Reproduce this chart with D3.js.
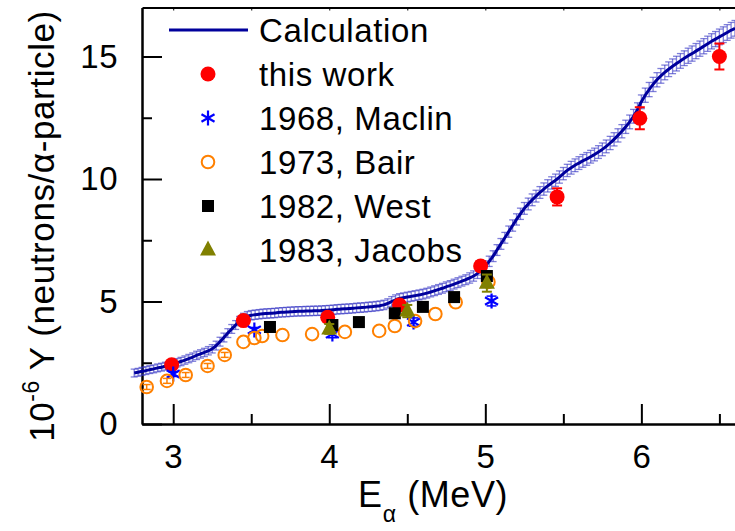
<!DOCTYPE html>
<html>
<head>
<meta charset="utf-8">
<script src="https://cdn.jsdelivr.net/npm/d3@7"></script>
<style>
  body { margin: 0; background: #fff; }
  svg { display: block; }
  text { font-family: "Liberation Sans", Arial, Helvetica, sans-serif; fill: #000; }
</style>
</head>
<body>
<svg id="chart" width="735" height="531"></svg>
<script>
// Calculated thick-target neutron yield (with its uncertainty band)
const calcEnergy = [
  2.750,2.775,2.800,2.825,2.850,2.875,2.900,2.925,2.950,2.975,
  3.000,3.025,3.050,3.075,3.100,3.125,3.150,3.175,3.200,3.225,
  3.250,3.275,3.300,3.325,3.350,3.375,3.400,3.425,3.450,3.475,
  3.500,3.525,3.550,3.575,3.600,3.625,3.650,3.675,3.700,3.725,
  3.750,3.775,3.800,3.825,3.850,3.875,3.900,3.925,3.950,3.975,
  4.000,4.025,4.050,4.075,4.100,4.125,4.150,4.175,4.200,4.225,
  4.250,4.275,4.300,4.325,4.350,4.375,4.400,4.425,4.450,4.475,
  4.500,4.525,4.550,4.575,4.600,4.625,4.650,4.675,4.700,4.725,
  4.750,4.775,4.800,4.825,4.850,4.875,4.900,4.925,4.950,4.975,
  5.000,5.025,5.050,5.075,5.100,5.125,5.150,5.175,5.200,5.225,
  5.250,5.275,5.300,5.325,5.350,5.375,5.400,5.425,5.450,5.475,
  5.500,5.525,5.550,5.575,5.600,5.625,5.650,5.675,5.700,5.725,
  5.750,5.775,5.800,5.825,5.850,5.875,5.900,5.925,5.950,5.975,
  6.000,6.025,6.050,6.075,6.100,6.125,6.150,6.175,6.200,6.225,
  6.250,6.275,6.300,6.325,6.350,6.375,6.400,6.425,6.450,6.475,
  6.500,6.525,6.550,6.575,6.600
];
const calcYield = [
  2.08,2.11,2.15,2.18,2.22,2.25,2.29,2.32,2.36,2.40,
  2.45,2.50,2.55,2.61,2.67,2.73,2.80,2.86,2.92,2.99,
  3.07,3.20,3.36,3.53,3.71,3.88,4.04,4.20,4.33,4.40,
  4.44,4.46,4.48,4.50,4.51,4.52,4.53,4.55,4.56,4.57,
  4.58,4.59,4.60,4.60,4.61,4.61,4.62,4.62,4.63,4.64,
  4.65,4.66,4.68,4.69,4.70,4.71,4.72,4.74,4.75,4.76,
  4.78,4.79,4.81,4.83,4.86,4.92,5.00,5.07,5.12,5.15,
  5.18,5.21,5.24,5.27,5.30,5.34,5.39,5.44,5.49,5.54,
  5.60,5.65,5.71,5.77,5.83,5.89,5.96,6.04,6.15,6.29,
  6.45,6.64,6.85,7.10,7.35,7.60,7.85,8.10,8.35,8.58,
  8.80,8.98,9.15,9.30,9.45,9.59,9.72,9.84,9.95,10.08,
  10.22,10.35,10.46,10.56,10.65,10.74,10.82,10.91,11.00,11.10,
  11.21,11.33,11.47,11.62,11.78,11.95,12.13,12.33,12.56,12.83,
  13.15,13.42,13.65,13.86,14.05,14.21,14.35,14.48,14.60,14.71,
  14.82,14.93,15.03,15.12,15.22,15.32,15.42,15.52,15.62,15.71,
  15.80,15.89,15.98,16.07,16.15
];
const calcError = [
  0.16,0.16,0.16,0.16,0.16,0.16,0.16,0.16,0.16,0.16,
  0.17,0.17,0.17,0.17,0.17,0.17,0.17,0.17,0.17,0.17,
  0.17,0.18,0.18,0.18,0.18,0.18,0.18,0.19,0.19,0.19,
  0.19,0.19,0.19,0.19,0.19,0.19,0.19,0.19,0.19,0.19,
  0.19,0.19,0.19,0.19,0.19,0.19,0.19,0.19,0.19,0.19,
  0.19,0.19,0.19,0.19,0.19,0.19,0.19,0.19,0.19,0.19,
  0.19,0.19,0.19,0.19,0.19,0.19,0.20,0.20,0.20,0.20,
  0.20,0.20,0.20,0.20,0.20,0.20,0.20,0.20,0.20,0.20,
  0.20,0.20,0.20,0.20,0.20,0.20,0.21,0.21,0.21,0.21,
  0.21,0.21,0.22,0.22,0.22,0.22,0.23,0.23,0.23,0.23,
  0.24,0.24,0.24,0.24,0.24,0.25,0.25,0.25,0.25,0.25,
  0.25,0.25,0.26,0.26,0.26,0.26,0.26,0.26,0.26,0.26,
  0.26,0.26,0.27,0.27,0.27,0.27,0.27,0.28,0.28,0.28,
  0.28,0.29,0.29,0.29,0.29,0.30,0.30,0.30,0.30,0.30,
  0.30,0.30,0.31,0.31,0.31,0.31,0.31,0.31,0.31,0.31,
  0.32,0.32,0.32,0.32,0.32
];

// This work
const thisWorkEnergy = [2.99, 3.45, 3.99, 4.45, 4.97, 5.46, 5.99, 6.50];
const thisWorkYield  = [2.42, 4.22, 4.36, 4.86, 6.45, 9.27, 12.48, 15.00];
const thisWorkError  = [0.10, 0.15, 0.15, 0.15, 0.20, 0.35, 0.45, 0.53];

// 1968, Maclin
const maclinEnergy = [3.00, 3.52, 4.02, 4.54, 5.04];
const maclinYield  = [2.04, 3.84, 3.67, 4.16, 5.02];
const maclinError  = [0.10, 0.10, 0.15, 0.17, 0.20];

// 1973, Bair
const bairEnergy = [2.83, 2.96, 3.08, 3.22, 3.33, 3.45, 3.52, 3.57, 3.70, 3.89, 4.10, 4.32, 4.42, 4.55, 4.68, 4.81, 5.02];
const bairYield  = [1.51, 1.76, 2.00, 2.37, 2.82, 3.35, 3.51, 3.59, 3.63, 3.67, 3.76, 3.80, 4.00, 4.20, 4.49, 4.97, 5.80];
const bairError  = [0.10, 0.10, 0.10, 0.10, 0.10, 0, 0, 0, 0, 0, 0, 0, 0, 0, 0, 0, 0];

// 1982, West
const westEnergy = [3.62, 4.02, 4.19, 4.42, 4.60, 4.80, 5.01];
const westYield  = [3.96, 4.04, 4.16, 4.52, 4.78, 5.18, 6.04];

// 1983, Jacobs
const jacobsEnergy = [4.00, 4.50, 5.01];
const jacobsYield  = [3.88, 4.61, 5.75];
const jacobsError  = [0.20, 0.25, 0.35];

const xMajorTicks = [3, 4, 5, 6];
const xMinorTicks = [3.5, 4.5, 5.5, 6.5];
const yMajorTicks = [0, 5, 10, 15];
const yMinorTicks = [2.5, 7.5, 12.5];
const legendLabels = ["Calculation", "this work", "1968, Maclin", "1973, Bair", "1982, West", "1983, Jacobs"];

const colors = {
  calc: "#00009c",
  band: "rgba(50,50,195,0.62)",
  thisWork: "#ff0000",
  maclin: "#0000ff",
  bair: "#ff8000",
  west: "#000000",
  jacobs: "#808000"
};

const svg = d3.select("#chart");
const x = d3.scaleLinear().domain([2.8, 6.6]).range([142, 735]);
const y = d3.scaleLinear().domain([0, 17]).range([424, 7.5]);

// ---- axes ----
const axisFont = 33;
function styleAxis(g) {
  g.selectAll("path.domain").attr("stroke", "#000").attr("stroke-width", 2);
  g.selectAll(".tick line").attr("stroke", "#000").attr("stroke-width", 2);
  g.selectAll(".tick text").style("font-size", axisFont + "px").attr("fill", "#000")
    .style("letter-spacing", "0.5px")
    .style("font-family", '"Liberation Sans", Arial, sans-serif');
}

svg.append("g").attr("transform", `translate(0,${y(0)})`)
  .call(d3.axisBottom(x).tickValues(xMinorTicks).tickSizeInner(-10).tickSizeOuter(0).tickFormat(""))
  .call(styleAxis);
svg.append("g").attr("transform", `translate(0,${y(0)})`)
  .call(d3.axisBottom(x).tickValues(xMajorTicks).tickSizeInner(-20).tickSizeOuter(0).tickPadding(21).tickFormat(d3.format("d")))
  .call(styleAxis);

svg.append("g").attr("transform", `translate(${x(2.8)},0)`)
  .call(d3.axisLeft(y).tickValues(yMinorTicks).tickSizeInner(-10).tickSizeOuter(0).tickFormat(""))
  .call(styleAxis);
svg.append("g").attr("transform", `translate(${x(2.8)},0)`)
  .call(d3.axisLeft(y).tickValues(yMajorTicks).tickSizeInner(-20).tickSizeOuter(0).tickPadding(24).tickFormat(d3.format("d")))
  .call(styleAxis);

// top frame
svg.append("g").attr("transform", `translate(0,${y(17)})`)
  .call(d3.axisTop(x).tickValues(xMajorTicks.concat(xMinorTicks)).tickSizeInner(-3).tickSizeOuter(0).tickFormat(""))
  .call(g => { g.selectAll("path.domain").attr("stroke", "#000").attr("stroke-width", 2);
               g.selectAll(".tick line").attr("stroke", "#000").attr("stroke-width", 1); });

// ---- axis titles ----
const xTitle = svg.append("text").attr("x", 358).attr("y", 507)
  .style("font-size", "36px").style("letter-spacing", "0.6px");
xTitle.append("tspan").text("E");
xTitle.append("tspan").attr("dy", 15).style("font-size", "23px").text("α");
xTitle.append("tspan").attr("dy", -15).text(" (MeV)");

const yTitle = svg.append("text")
  .attr("transform", "translate(54,226) rotate(-90)")
  .attr("text-anchor", "middle")
  .style("font-size", "35px").style("letter-spacing", "0.6px");
yTitle.append("tspan").text("10");
yTitle.append("tspan").attr("dy", -15).style("font-size", "23px").text("-6");
yTitle.append("tspan").attr("dy", 15).text(" Y (neutrons/α-particle)");

// ---- calculation band and curve ----
const calc = calcEnergy.map((e, i) => ({ e, v: calcYield[i], err: calcError[i] }));
const band = svg.append("g").attr("stroke", colors.band).attr("stroke-width", 1.3).attr("fill", "none");
calc.forEach(d => {
  const cx = x(d.e), y1 = y(d.v + d.err), y2 = y(d.v - d.err);
  band.append("line").attr("x1", cx).attr("x2", cx).attr("y1", y1).attr("y2", y2);
  band.append("line").attr("x1", cx - 3.5).attr("x2", cx + 3.5).attr("y1", y1).attr("y2", y1);
  band.append("line").attr("x1", cx - 3.5).attr("x2", cx + 3.5).attr("y1", y2).attr("y2", y2);
});
svg.append("path")
  .datum(calc)
  .attr("fill", "none")
  .attr("stroke", colors.calc)
  .attr("stroke-width", 3)
  .attr("d", d3.line().x(d => x(d.e)).y(d => y(d.v)).curve(d3.curveMonotoneX));

// ---- helpers ----
function errorBars(g, energies, values, errors, color, capHalf, width) {
  energies.forEach((e, i) => {
    const err = errors[i];
    if (!err) return;
    const cx = x(e), y1 = y(values[i] + err), y2 = y(values[i] - err);
    g.append("line").attr("x1", cx).attr("x2", cx).attr("y1", y1).attr("y2", y2);
    g.append("line").attr("x1", cx - capHalf).attr("x2", cx + capHalf).attr("y1", y1).attr("y2", y1);
    g.append("line").attr("x1", cx - capHalf).attr("x2", cx + capHalf).attr("y1", y2).attr("y2", y2);
  });
  g.attr("stroke", color).attr("stroke-width", width);
}
const asteriskPath = s => `M0,${-s}L0,${s}M${-s * 0.87},${-s * 0.5}L${s * 0.87},${s * 0.5}M${-s * 0.87},${s * 0.5}L${s * 0.87},${-s * 0.5}`;
const trianglePath = "M0,-9.5L8,5.5L-8,5.5Z";

const markers = {
  thisWork: g => g.append("circle").attr("r", 7.5).attr("fill", colors.thisWork),
  maclin: g => g.append("path").attr("d", asteriskPath(7.5)).attr("stroke", colors.maclin).attr("stroke-width", 2.2).attr("fill", "none"),
  bair: g => g.append("circle").attr("r", 6.3).attr("fill", "none").attr("stroke", colors.bair).attr("stroke-width", 2),
  west: g => g.append("rect").attr("x", -6).attr("y", -6).attr("width", 12).attr("height", 12).attr("fill", colors.west),
  jacobs: g => g.append("path").attr("d", trianglePath).attr("fill", colors.jacobs)
};

function scatter(key, energies, values) {
  const g = svg.append("g");
  energies.forEach((e, i) => {
    markers[key](g.append("g").attr("transform", `translate(${x(e)},${y(values[i])})`));
  });
}

// this work
errorBars(svg.append("g"), thisWorkEnergy, thisWorkYield, thisWorkError, colors.thisWork, 5, 2);
scatter("thisWork", thisWorkEnergy, thisWorkYield);
// Maclin
errorBars(svg.append("g"), maclinEnergy, maclinYield, maclinError, colors.maclin, 5, 1.5);
scatter("maclin", maclinEnergy, maclinYield);
// Bair
errorBars(svg.append("g"), bairEnergy, bairYield, bairError, colors.bair, 4, 1.5);
scatter("bair", bairEnergy, bairYield);
// West
scatter("west", westEnergy, westYield);
// Jacobs
errorBars(svg.append("g"), jacobsEnergy, jacobsYield, jacobsError, colors.jacobs, 5, 2);
scatter("jacobs", jacobsEnergy, jacobsYield);

// ---- legend ----
const legendKeys = ["calc", "thisWork", "maclin", "bair", "west", "jacobs"];
const legend = svg.append("g");
legendKeys.forEach((key, i) => {
  const rowY = 30 + i * 44;
  const row = legend.append("g").attr("transform", `translate(0,${rowY})`);
  if (key === "calc") {
    row.append("line").attr("x1", 169).attr("x2", 248).attr("y1", 0).attr("y2", 0)
      .attr("stroke", colors.calc).attr("stroke-width", 3);
  } else {
    markers[key](row.append("g").attr("transform", "translate(208,0)"));
  }
  row.append("text").attr("x", 259).attr("y", 12)
    .style("font-size", "33px").style("letter-spacing", "0.6px")
    .text(legendLabels[i]);
});
</script>
</body>
</html>
